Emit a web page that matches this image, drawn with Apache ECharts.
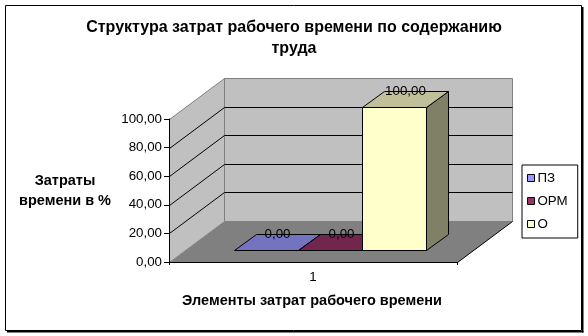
<!DOCTYPE html>
<html><head><meta charset="utf-8">
<script src="https://cdn.jsdelivr.net/npm/echarts@6/dist/echarts.min.js"></script>
<style>html,body{margin:0;padding:0;background:#fff}#c{width:588px;height:336px}</style>
</head><body><div id="c"></div>
<script>
// ---- data ----
const categories = ['1'];
const seriesNames = ['ПЗ', 'ОРМ', 'О'];
const valuesPZ = [0.00];
const valuesORM = [0.00];
const valuesO = [100.00];
const yMin = 0, yMax = 100, yStep = 20;
const titleText = 'Структура затрат рабочего времени по содержанию\nтруда';
const yTitle = 'Затраты\nвремени в %';
const xTitle = 'Элементы затрат рабочего времени';

// ---- style ----
const FONT = '"Liberation Sans", Arial, sans-serif';
const FS = 13.333;
const FSB = 14.5;
const DX = 55, DY = -41;          // depth offset of back wall
const colors = ['#9999FF', '#993366', '#FFFFCC'];
const fmt = v => Number(v).toFixed(2).replace('.', ',');
function shade(hex, k) {
  const n = parseInt(hex.slice(1), 16);
  const r = Math.round(((n >> 16) & 255) * k), g = Math.round(((n >> 8) & 255) * k), b = Math.round((n & 255) * k);
  return 'rgb(' + r + ',' + g + ',' + b + ')';
}
const crisp = v => Math.round(v) + 0.5;

function wallsRender(params, api) {
  const p0 = api.coord([0, yMin]);
  const p1 = api.coord([0, yMax]);
  const bw = api.size([1, 0])[0];
  const L = crisp(p0[0] - bw / 2), R = crisp(p0[0] + bw / 2);
  const y0 = crisp(p0[1]), y1 = crisp(p1[1]);
  const ch = [];
  ch.push({type: 'polygon', shape: {points: [[L, y0], [R, y0], [R + DX, y0 + DY], [L + DX, y0 + DY]]},
    style: {fill: '#808080', stroke: null}});
  ch.push({type: 'polygon', shape: {points: [[L + DX, y1 + DY], [R + DX, y1 + DY], [R + DX, y0 + DY], [L + DX, y0 + DY]]},
    style: {fill: '#c0c0c0', stroke: '#808080', lineWidth: 1}});
  ch.push({type: 'polygon', shape: {points: [[L, y0], [L, y1], [L + DX, y1 + DY], [L + DX, y0 + DY]]},
    style: {fill: '#c0c0c0', stroke: '#808080', lineWidth: 1}});
  for (let v = yMin + yStep; v < yMax; v += yStep) {
    const y = crisp(api.coord([0, v])[1]);
    ch.push({type: 'polyline', shape: {points: [[L, y], [L + DX, y + DY], [R + DX, y + DY]]},
      style: {fill: null, stroke: '#000', lineWidth: 1}});
  }
  ch.push({type: 'line', shape: {x1: R, y1: y0, x2: R + DX, y2: y0 + DY}, style: {stroke: '#000', lineWidth: 1}});
  return {type: 'group', children: ch};
}

function barRender(idx) {
  return function (params, api) {
    const cat = api.value(0), v = api.value(1);
    const c = api.coord([cat, yMin]);
    const t = api.coord([cat, v]);
    const bw = api.size([1, 0])[0];
    const n = seriesNames.length;
    const w = bw / (n + 1.5);
    const x0 = c[0] - bw / 2 + 0.75 * w + idx * w;
    const f0 = 0.3, f1 = 0.7;
    const ax = Math.round(x0 + DX * f0) + 0.5;
    const ay0 = Math.round(c[1] + DY * f0) + 0.5;
    const ay1 = Math.round(t[1] + DY * f0) + 0.5;
    const bx = Math.round(DX * (f1 - f0)), by = Math.round(DY * (f1 - f0));
    const aw = Math.round(w);
    const col = colors[idx];
    const ch = [];
    ch.push({type: 'polygon', shape: {points: [[ax + aw, ay0], [ax + aw, ay1], [ax + aw + bx, ay1 + by], [ax + aw + bx, ay0 + by]]},
      style: {fill: shade(col, 0.5), stroke: '#000', lineWidth: 1}});
    ch.push({type: 'polygon', shape: {points: [[ax, ay1], [ax + aw, ay1], [ax + aw + bx, ay1 + by], [ax + bx, ay1 + by]]},
      style: {fill: shade(col, 0.75), stroke: '#000', lineWidth: 1}});
    if (ay0 - ay1 > 0.5) {
      ch.push({type: 'rect', shape: {x: ax, y: ay1, width: aw, height: ay0 - ay1},
        style: {fill: col, stroke: '#000', lineWidth: 1}});
    }
    ch.push({type: 'text', x: ax + aw / 2 + bx / 2, y: ay1 + by, z2: 100,
      style: {text: fmt(v), fill: '#000', font: FS + 'px ' + FONT, align: 'center', verticalAlign: 'middle'}});
    return {type: 'group', children: ch};
  };
}

const valueSets = [valuesPZ, valuesORM, valuesO];
const barSeries = seriesNames.map((name, i) => ({
  name: name,
  type: 'custom',
  coordinateSystem: 'cartesian2d',
  z: 3 + i,
  itemStyle: {color: colors[i]},
  renderItem: barRender(i),
  data: categories.map((c, k) => [k, valueSets[i][k]])
}));

const chart = echarts.init(document.getElementById('c'), null, {renderer: 'canvas'});
chart.setOption({
  animation: false,
  backgroundColor: '#fff',
  title: {
    text: titleText, left: 'center', top: 17, padding: 0,
    textStyle: {fontSize: 16, fontWeight: 'bold', fontFamily: FONT, color: '#000', lineHeight: 21}
  },
  grid: {left: 169, right: 131, top: 119, bottom: 74, containLabel: false},
  xAxis: {
    type: 'category', data: categories, boundaryGap: true,
    axisLine: {lineStyle: {color: '#000', width: 1}},
    axisTick: {show: true, length: 3, lineStyle: {color: '#000'}},
    axisLabel: {margin: 9, color: '#000', fontSize: FS, fontFamily: FONT},
    splitLine: {show: false}
  },
  yAxis: {
    type: 'value', min: yMin, max: yMax, interval: yStep,
    axisLine: {show: true, lineStyle: {color: '#000', width: 1}},
    axisTick: {show: true, length: 5, lineStyle: {color: '#000'}},
    axisLabel: {margin: 7, color: '#000', fontSize: FS, fontFamily: FONT, formatter: v => fmt(v), padding: [3, 0, 0, 0]},
    splitLine: {show: false}
  },
  legend: {
    orient: 'vertical', left: 522, top: 165, padding: [6, 10, 7, 5],
    itemWidth: 7, itemHeight: 7, itemGap: 9, icon: 'rect',
    borderColor: '#000', borderWidth: 1, selectedMode: false,
    itemStyle: {borderColor: '#000', borderWidth: 1},
    textStyle: {fontSize: FS, fontFamily: FONT, color: '#000', padding: [0, 0, 0, -2], lineHeight: 14},
    data: seriesNames
  },
  graphic: [
    {type: 'rect', shape: {x: 5.5, y: 5.5, width: 576, height: 325}, style: {fill: null, stroke: '#000', lineWidth: 1}, z: 0},
    {type: 'rect', shape: {x: 582, y: 7, width: 1.5, height: 325.5}, style: {fill: '#000'}},
    {type: 'rect', shape: {x: 7, y: 331, width: 576.5, height: 1.5}, style: {fill: '#000'}},
    {type: 'text', x: 65, y: 191, style: {text: yTitle, font: 'bold ' + FSB + 'px ' + FONT, fill: '#000', align: 'center', verticalAlign: 'middle', lineHeight: 20}},
    {type: 'text', x: 312, y: 301, style: {text: xTitle, font: 'bold ' + FSB + 'px ' + FONT, fill: '#000', align: 'center', verticalAlign: 'middle'}}
  ],
  series: [{
    name: 'walls', type: 'custom', coordinateSystem: 'cartesian2d', z: -1, silent: true,
    renderItem: wallsRender, data: [[0, 0]]
  }].concat(barSeries)
});
</script>
</body></html>
